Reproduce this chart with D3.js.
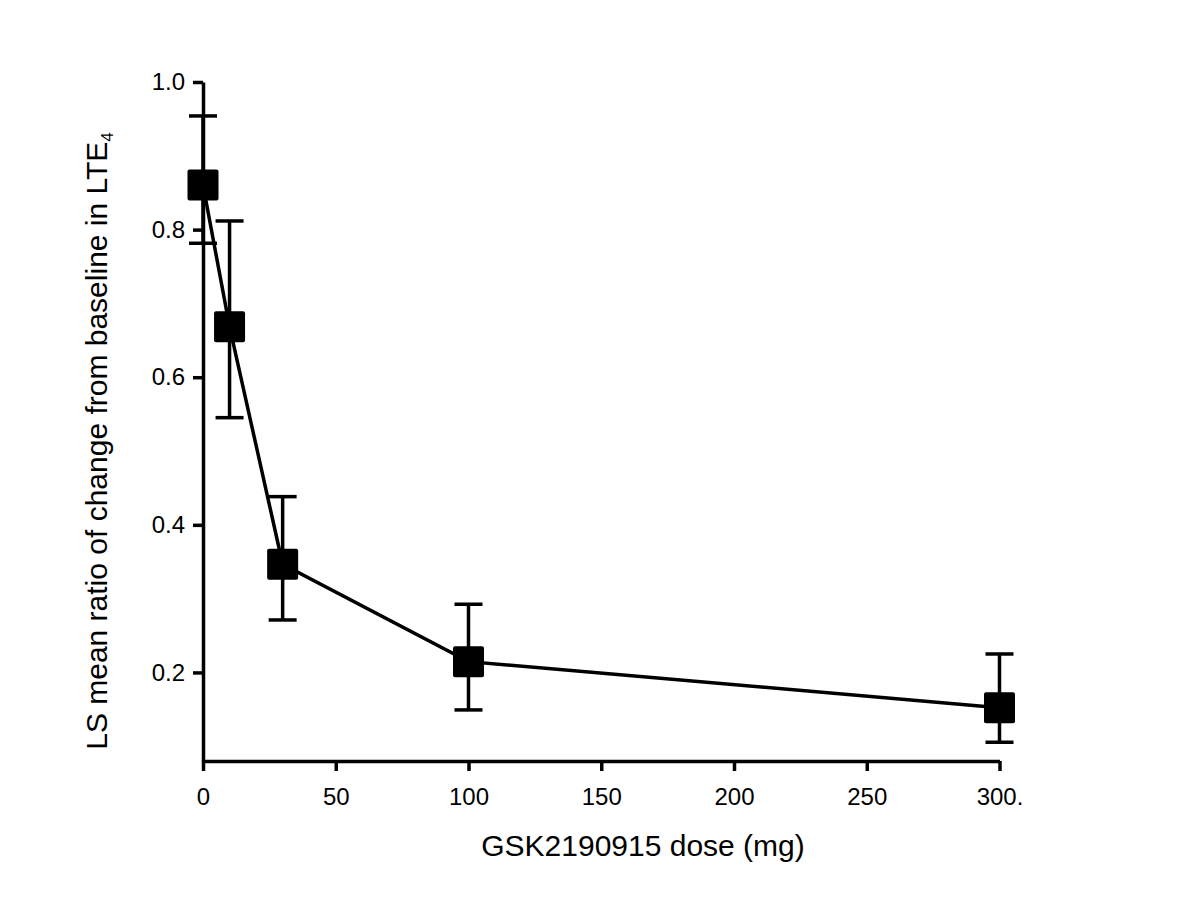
<!DOCTYPE html>
<html>
<head>
<meta charset="utf-8">
<script src="https://cdn.jsdelivr.net/npm/d3@7"></script>
<style>
  body { margin: 0; background: #fff; }
  svg text { font-family: "Liberation Sans", Arial, sans-serif; fill: #000; }
</style>
</head>
<body>
<svg id="chart" width="1200" height="900"></svg>
<script>
// dose levels (mg) and LS mean ratio with its interval
const doses = [0, 10, 30, 100, 300]
const means = [0.8605, 0.6685, 0.3466, 0.2146, 0.1523]
const upper = [0.954, 0.8117, 0.4382, 0.2924, 0.225]
const lower = [0.7815, 0.5452, 0.2711, 0.1492, 0.1054]

const xTicks = [0, 50, 100, 150, 200, 250, 300]
const xTickLabels = ["0", "50", "100", "150", "200", "250", "300."]
const yTicks = [0.2, 0.4, 0.6, 0.8, 1.0]
const yTickLabels = ["0.2", "0.4", "0.6", "0.8", "1.0"]

const svg = d3.select("#chart")

const x = d3.scaleLinear().domain([0, 300]).range([203, 999.5])
const y = d3.scaleLinear().domain([0.08, 1.0]).range([761, 82])

const data = doses.map((d, i) => ({ dose: d, mean: means[i], hi: upper[i], lo: lower[i] }))

// axes
svg.append("g")
  .attr("transform", "translate(0," + y(0.08) + ")")
  .call(d3.axisBottom(x).tickValues(xTicks)
    .tickFormat((d, i) => xTickLabels[i])
    .tickSize(10).tickPadding(17).tickSizeOuter(0))

svg.append("g")
  .attr("transform", "translate(" + x(0) + ",0)")
  .call(d3.axisLeft(y).tickValues(yTicks)
    .tickFormat((d, i) => yTickLabels[i])
    .tickSize(10).tickPadding(8).tickSizeOuter(0))

svg.selectAll(".domain, .tick line")
  .attr("stroke", "#000")
  .attr("stroke-width", 3.5)
svg.selectAll(".tick text")
  .style("font-size", "24px")
  .attr("fill", "#000")

// connecting line
svg.append("path")
  .datum(data)
  .attr("fill", "none")
  .attr("stroke", "#000")
  .attr("stroke-width", 3.5)
  .attr("d", d3.line().x(d => x(d.dose)).y(d => y(d.mean)))

// error bars
const capW = 14
const eb = svg.append("g").attr("stroke", "#000").attr("stroke-width", 3.5)
eb.selectAll(".stem").data(data).join("line")
  .attr("x1", d => x(d.dose)).attr("x2", d => x(d.dose))
  .attr("y1", d => y(d.hi)).attr("y2", d => y(d.lo))
eb.selectAll(".capHi").data(data).join("line")
  .attr("x1", d => x(d.dose) - capW).attr("x2", d => x(d.dose) + capW)
  .attr("y1", d => y(d.hi)).attr("y2", d => y(d.hi))
eb.selectAll(".capLo").data(data).join("line")
  .attr("x1", d => x(d.dose) - capW).attr("x2", d => x(d.dose) + capW)
  .attr("y1", d => y(d.lo)).attr("y2", d => y(d.lo))

// square markers
const sz = 31
svg.append("g").selectAll("rect").data(data).join("rect")
  .attr("x", d => x(d.dose) - sz / 2)
  .attr("y", d => y(d.mean) - sz / 2)
  .attr("width", sz).attr("height", sz)
  .attr("rx", 2)
  .attr("fill", "#000")

// axis titles
svg.append("text")
  .attr("x", 643).attr("y", 856)
  .attr("text-anchor", "middle")
  .style("font-size", "30px")
  .text("GSK2190915 dose (mg)")

const yt = svg.append("text")
  .attr("transform", "translate(107,441) rotate(-90)")
  .attr("text-anchor", "middle")
  .style("font-size", "30px")
yt.append("tspan").text("LS mean ratio of change from baseline in LTE")
yt.append("tspan").attr("dy", 6).style("font-size", "17px").text("4")
</script>
</body>
</html>
